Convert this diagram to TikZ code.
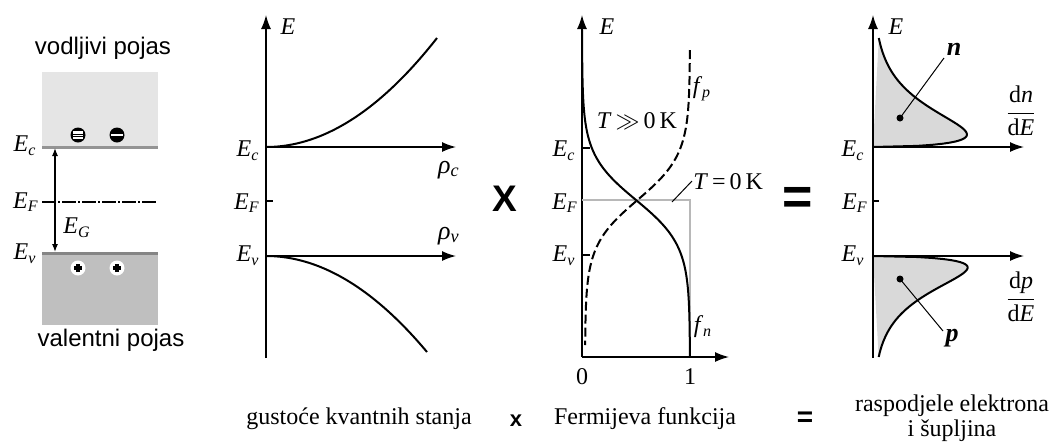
\documentclass[tikz,border=0pt]{standalone}
\usepackage{fontspec}
\setmainfont{Liberation Serif}
\setsansfont{Liberation Sans}
\usetikzlibrary{arrows.meta}
\newcommand{\lbl}[2]{\textit{#1}\textsubscript{\textit{#2}}}
\begin{document}
\begin{tikzpicture}[x=0.5pt,y=-0.5pt,
  ax/.style={line width=0.75pt,-{Latex[length=7pt,width=5pt]}},
  plain/.style={line width=0.75pt},
  crv/.style={line width=1pt},
  lab/.style={font=\fontsize{12}{12.5}\selectfont, inner sep=0pt},
  bot/.style={font=\fontsize{12}{12.5}\selectfont, inner sep=0pt, align=center},
  band/.style={font=\sffamily\fontsize{12}{13}\selectfont, inner sep=0pt},
  sign/.style={font=\sffamily\bfseries\fontsize{18.5}{19}\selectfont, inner sep=0pt},
  electron/.style={circle, fill=black, minimum size=7.5pt, inner sep=0pt},
  hole/.style={circle, fill=white, minimum size=7.5pt, inner sep=0pt},
  dotn/.style={circle, fill=black, minimum size=3.5pt, inner sep=0pt},
  ]
\useasboundingbox (0,0) rectangle (1057,446);

% ---------------- panel 1: bands ----------------
\fill[black!10] (42,72) rectangle (158,147);
\fill[black!25] (42,253) rectangle (158,325);
\coordinate (cbL) at (42,147); \coordinate (cbR) at (158,147);
\coordinate (vbL) at (42,253); \coordinate (vbR) at (158,253);
\draw[line width=1.5pt, black!42] (cbL) -- (cbR);
\draw[line width=1.5pt, black!48] (vbL) -- (vbR);
\coordinate (efL) at (42,202); \coordinate (efR) at (156,202);
\draw[line width=0.6pt, dash pattern=on 7pt off 1pt on 1pt off 1pt] (efL) -- (efR);
\coordinate (gapT) at (55,148); \coordinate (gapB) at (55,252);
\draw[line width=0.6pt, {Latex[length=4pt,width=3pt]}-{Latex[length=4pt,width=3pt]}] (gapT) -- (gapB);
\node[band] (vod) at (103,48) {vodljivi pojas};
\node[band] (val) at (111,340) {valentni pojas};
\node[lab] (Ec1) at (25,146) {\lbl{E}{c}};
\node[lab] (EF1) at (26,202) {\lbl{E}{F}};
\node[lab] (Ev1) at (25,254) {\lbl{E}{v}};
\node[lab] (EG1) at (77,228) {\lbl{E}{G}};
% electrons
\node[electron] (e1) at (78,135) {};
\node[electron] (e2) at (117,135) {};
\fill[white] ([xshift=-2.6pt,yshift=-1.8pt]e1.center) rectangle ([xshift=2.6pt,yshift=1.8pt]e1.center);
\draw[line width=0.5pt] ([xshift=-2.6pt,yshift=-0.5pt]e1.center) rectangle ([xshift=2.6pt,yshift=0.5pt]e1.center);
\fill[white] ([xshift=-3pt,yshift=-0.35pt]e2.center) rectangle ([xshift=3pt,yshift=0.35pt]e2.center);
% holes
\node[hole] (h1) at (78,268) {};
\node[hole] (h2) at (117,268) {};
\foreach \h in {h1,h2}{
  \draw[line width=1.6pt] ([xshift=-2pt]\h.center) -- ([xshift=2pt]\h.center);
  \draw[line width=1.6pt] ([yshift=-2pt]\h.center) -- ([yshift=2pt]\h.center);
}

% ---------------- panel 2: density of states ----------------
\coordinate (o2) at (266,358); \coordinate (t2) at (266,15);
\draw[ax] (o2) -- (t2);
\coordinate (c2) at (266,147); \coordinate (c2e) at (456,147);
\draw[ax] (c2) -- (c2e);
\coordinate (v2) at (266,256); \coordinate (v2e) at (456,256);
\draw[ax] (v2) -- (v2e);
\coordinate (f2) at (266,201); \coordinate (f2e) at (273,201);
\draw[plain] (f2) -- (f2e);
\draw[crv] plot[domain=0:171, samples=60] ({266+\x},{147-109*(\x/171)^2});
\draw[crv] plot[domain=0:161, samples=60] ({266+\x},{256+96*(\x/161)^2});
\node[lab] (E2) at (288,27) {\textit{E}};
\node[lab] (Ec2) at (248,151) {\lbl{E}{c}};
\node[lab] (EF2) at (247,203) {\lbl{E}{F}};
\node[lab] (Ev2) at (248,256) {\lbl{E}{v}};
\node[lab, font=\fontsize{13}{13}\selectfont] (rc) at (449,170) {\lbl{ρ}{c}};
\node[lab, font=\fontsize{13}{13}\selectfont] (rv) at (449,236) {\lbl{ρ}{v}};

\node[sign] (bigx) at (505,199) {X};

% ---------------- panel 3: Fermi function ----------------
\coordinate (o3) at (582,357); \coordinate (t3) at (582,15);
\coordinate (x3e) at (729,357);
\draw[ax] (o3) -- (t3);
\draw[ax] (o3) -- (x3e);
\coordinate (c3) at (582,148); \coordinate (c3e) at (590,148);
\coordinate (v3) at (582,255); \coordinate (v3e) at (590,255);
\draw[plain] (c3) -- (c3e);
\draw[plain] (v3) -- (v3e);
\coordinate (f3) at (582,200); \coordinate (f3c) at (690,200); \coordinate (f3b) at (690,357);
\draw[line width=1.1pt, black!28] (f3) -- (f3c) -- (f3b);
\draw[crv] plot[domain=30:357, samples=120] ({582+108/(1+exp((200-\x)/22.6))},{\x});
\draw[crv, dash pattern=on 4.5pt off 2pt] plot[domain=50:345, samples=120] ({585+105/(1+exp((\x-200)/22.6))},{\x});
\coordinate (l3a) at (672,202); \coordinate (l3b) at (692,181);
\draw[line width=0.5pt] (l3a) -- (l3b);
\node[lab] (E3) at (607,27) {\textit{E}};
\node[lab] (Ec3) at (564,151) {\lbl{E}{c}};
\node[lab] (EF3) at (565,203) {\lbl{E}{F}};
\node[lab] (Ev3) at (564,256) {\lbl{E}{v}};
\node[lab] (Tg) at (637,121) {\textit{T}\,$\gg$\,0\,K};
\node[lab, anchor=west] (T0) at (693,182) {\textit{T}\,=\,0\,K};
\node[lab] (fp) at (702,89) {\lbl{f}{p}};
\node[lab] (fn) at (703,327) {\lbl{f}{n}};
\node[lab] (n0) at (582,377) {0};
\node[lab] (n1) at (690,377) {1};

\node[sign, font=\sffamily\bfseries\fontsize{26}{26}\selectfont] (bigeq) at (798,201) {=};

% ---------------- panel 4: carrier distributions ----------------
\fill[black!15] plot[domain=0:109, samples=100] ({873+43.8*sqrt(\x)*exp(-\x/25)},{147-\x}) -- cycle;
\fill[black!15] plot[domain=0:101, samples=100] ({873+46*sqrt(\x)*exp(-\x/23)},{256+\x}) -- cycle;
\draw[crv] plot[domain=0:109, samples=100] ({873+43.8*sqrt(\x)*exp(-\x/25)},{147-\x});
\draw[crv] plot[domain=0:101, samples=100] ({873+46*sqrt(\x)*exp(-\x/23)},{256+\x});
\coordinate (o4) at (873,358); \coordinate (t4) at (873,15);
\draw[ax] (o4) -- (t4);
\coordinate (c4) at (873,147); \coordinate (c4e) at (1024,147);
\draw[ax] (c4) -- (c4e);
\coordinate (v4) at (873,256); \coordinate (v4e) at (1024,256);
\draw[ax] (v4) -- (v4e);
\coordinate (f4) at (873,201); \coordinate (f4e) at (879,201);
\draw[plain] (f4) -- (f4e);
\node[dotn] (dn) at (900,118) {};
\node[dotn] (dp) at (900,279) {};
\node[lab, font=\fontsize{13}{13}\selectfont\bfseries\itshape] (nl) at (954,49) {n};
\node[lab, font=\fontsize{13}{13}\selectfont\bfseries\itshape] (pl) at (952,338) {p};
\coordinate (nla) at (944,58); \coordinate (pla) at (943,331);
\draw[line width=0.5pt] (dn.center) -- (nla);
\draw[line width=0.5pt] (dp.center) -- (pla);
\node[lab] (E4) at (896,27) {\textit{E}};
\node[lab] (Ec4) at (853,151) {\lbl{E}{c}};
\node[lab] (EF4) at (855,203) {\lbl{E}{F}};
\node[lab] (Ev4) at (853,256) {\lbl{E}{v}};
\node[lab] (dndE) at (1021,111) {$\displaystyle\frac{\mbox{d\textit{n}}}{\mbox{d\textit{E}}}$};
\node[lab] (dpdE) at (1021,297) {$\displaystyle\frac{\mbox{d\textit{p}}}{\mbox{d\textit{E}}}$};

% ---------------- bottom captions ----------------
\node[bot] (cap1) at (359,419) {gustoće kvantnih stanja};
\node[bot, font=\sffamily\bfseries\fontsize{11}{11}\selectfont] (capx) at (516,421) {x};
\node[bot] (cap2) at (645,419) {Fermijeva funkcija};
\node[bot, font=\sffamily\bfseries\fontsize{14}{14}\selectfont] (capeq) at (805,419) {=};
\node[bot] (cap3) at (952,418) {raspodjele elektrona\\i šupljina};
\end{tikzpicture}
\end{document}
